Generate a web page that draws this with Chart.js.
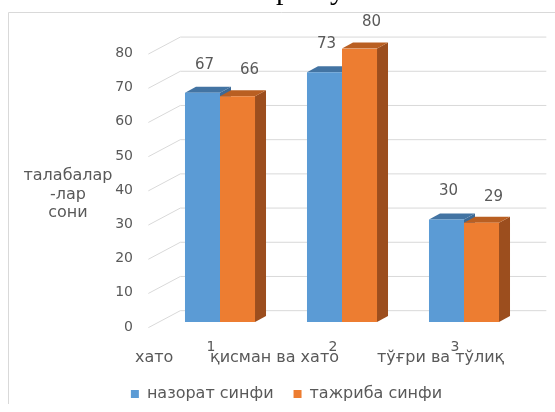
<!DOCTYPE html>
<html>
<head>
<meta charset="utf-8">
<script src="https://cdn.jsdelivr.net/npm/chart.js@4.4.0/dist/chart.umd.min.js"></script>
<style>
  html, body { margin: 0; padding: 0; background: #ffffff; overflow: hidden; }
  #wrap { position: relative; width: 555px; height: 412px; }
</style>
</head>
<body>
<div id="wrap"><canvas id="c" width="555" height="412"></canvas></div>
<script>
// Series and labels
const categories = ['1', '2', '3'];
const categoryNames = ['хато', 'қисман ва хато', 'тўғри ва тўлиқ'];
const seriesNames = ['назорат синфи', 'тажриба синфи'];
const controlValues = [67, 73, 30];
const experimentValues = [66, 80, 29];
const yTicks = [0, 10, 20, 30, 40, 50, 60, 70, 80];
const yTitleLines = ['талабалар', '-лар', 'сони'];
const headingGlyphs = ['р', 'у'];

const TEXT = '#595959';
const GRID = '#d9d9d9';
const FONT = 'DejaVu Sans';

// Depth of the floor (front edge -> back wall); bars sit one third in.
const WALL = { dx: 32, dy: -17 };
const BAR_DEPTH = { dx: 11, dy: -6 };

const faceColors = [
  { top: '#4374a3', side: '#3d6a96' },
  { top: '#b95f22', side: '#9c4e1e' }
];
const labelNudge = [ { dx: 2, dy: -28 }, { dx: 12, dy: -26 } ];

const frameAndWalls = {
  id: 'frameAndWalls',
  beforeDraw(chart) {
    const ctx = chart.ctx;
    ctx.save();
    // outer frame (top and left edges)
    ctx.strokeStyle = GRID;
    ctx.lineWidth = 1;
    ctx.beginPath();
    ctx.moveTo(8.5, 404);
    ctx.lineTo(8.5, 12.5);
    ctx.lineTo(555, 12.5);
    ctx.stroke();
    // heading, mostly above the visible page
    ctx.fillStyle = '#000000';
    ctx.font = '30px "Liberation Serif"';
    ctx.textBaseline = 'alphabetic';
    ctx.fillText(headingGlyphs[0], 276, -1);
    ctx.fillText(headingGlyphs[1], 330, -1);
    ctx.restore();
  },
  beforeDatasetsDraw(chart) {
    const ctx = chart.ctx;
    const y = chart.scales.y;
    const { left, right } = chart.chartArea;
    const fx = -WALL.dx / 3, fy = -WALL.dy / 3;
    const bx = WALL.dx * 2 / 3, by = WALL.dy * 2 / 3;
    ctx.save();
    ctx.strokeStyle = GRID;
    ctx.lineWidth = 1;
    yTicks.forEach(v => {
      const py = y.getPixelForValue(v);
      ctx.beginPath();
      ctx.moveTo(left + fx, py + fy);
      ctx.lineTo(left + bx, py + by);
      ctx.lineTo(right + bx, py + by);
      ctx.stroke();
    });
    // top and side faces of each bar, behind the front faces
    for (let i = 0; i < categories.length; i++) {
      chart.data.datasets.forEach((ds, d) => {
        const bar = chart.getDatasetMeta(d).data[i];
        const p = bar.getProps(['x', 'y', 'base', 'width'], true);
        const l = p.x - p.width / 2, r = p.x + p.width / 2;
        const t = p.y, b = p.base;
        ctx.fillStyle = faceColors[d].side;
        ctx.beginPath();
        ctx.moveTo(r, t);
        ctx.lineTo(r + BAR_DEPTH.dx, t + BAR_DEPTH.dy);
        ctx.lineTo(r + BAR_DEPTH.dx, b + BAR_DEPTH.dy);
        ctx.lineTo(r, b);
        ctx.closePath();
        ctx.fill();
        ctx.fillStyle = faceColors[d].top;
        ctx.beginPath();
        ctx.moveTo(l, t);
        ctx.lineTo(r, t);
        ctx.lineTo(r + BAR_DEPTH.dx, t + BAR_DEPTH.dy);
        ctx.lineTo(l + BAR_DEPTH.dx, t + BAR_DEPTH.dy);
        ctx.closePath();
        ctx.fill();
      });
    }
    ctx.restore();
  },
  afterDatasetsDraw(chart) {
    const ctx = chart.ctx;
    const { left } = chart.chartArea;
    ctx.save();
    ctx.fillStyle = TEXT;
    ctx.font = '15px "' + FONT + '"';
    ctx.textAlign = 'center';
    ctx.textBaseline = 'middle';
    // value labels
    chart.data.datasets.forEach((ds, d) => {
      chart.getDatasetMeta(d).data.forEach((bar, i) => {
        ctx.fillText(String(ds.data[i]), bar.x + labelNudge[d].dx, bar.y + labelNudge[d].dy);
      });
    });
    // axis title
    ctx.font = '16px "' + FONT + '"';
    yTitleLines.forEach((line, k) => {
      ctx.fillText(line, 68, 176 + k * 18.5);
    });
    // category names row
    ctx.textAlign = 'left';
    const starts = [left - 24, left + 51, left + 218];
    categoryNames.forEach((name, i) => {
      ctx.fillText(name, starts[i], 358);
    });
    ctx.restore();
  }
};

new Chart(document.getElementById('c'), {
  type: 'bar',
  data: {
    labels: categories,
    datasets: [
      { label: seriesNames[0], data: controlValues, backgroundColor: '#5b9bd5' },
      { label: seriesNames[1], data: experimentValues, backgroundColor: '#ed7d31' }
    ]
  },
  options: {
    responsive: false,
    animation: false,
    devicePixelRatio: 1,
    layout: { padding: { top: 48.4, left: 48, right: 30, bottom: 0 } },
    datasets: { bar: { categoryPercentage: 0.574, barPercentage: 1.0 } },
    scales: {
      x: {
        grid: { display: false, drawTicks: false },
        border: { display: false },
        ticks: { color: TEXT, font: { family: FONT, size: 14 }, padding: 17, labelOffset: -9 },
        afterFit(s) { s.height = 44; }
      },
      y: {
        min: 0, max: 80,
        grid: { display: false, drawTicks: false },
        border: { display: false },
        ticks: { stepSize: 10, color: TEXT, font: { family: FONT, size: 14 }, padding: 26, labelOffset: 5 },
        afterFit(s) { s.width = 111; }
      }
    },
    plugins: {
      legend: {
        position: 'bottom',
        labels: { boxWidth: 8, boxHeight: 8, color: TEXT, font: { family: FONT, size: 16 }, padding: 20 }
      },
      tooltip: { enabled: false },
      title: { display: false }
    }
  },
  plugins: [frameAndWalls]
});
</script>
</body>
</html>
